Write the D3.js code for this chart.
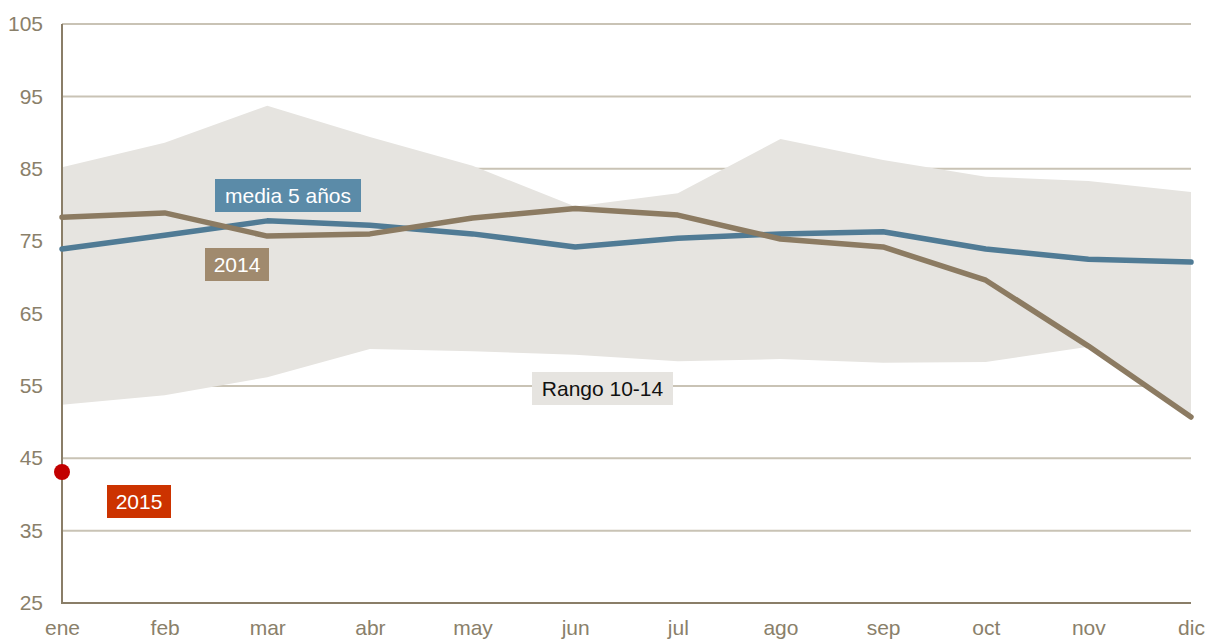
<!DOCTYPE html>
<html>
<head>
<meta charset="utf-8">
<script src="https://cdn.jsdelivr.net/npm/d3@7"></script>
<style>
  body { margin: 0; background: #fff; }
  svg { display: block; font-family: "Liberation Sans", Arial, sans-serif; }
</style>
</head>
<body>
<div id="chart"></div>
<script>
// months along the x axis
var months = ['ene','feb','mar','abr','may','jun','jul','ago','sep','oct','nov','dic'];
var yTicks = [25, 35, 45, 55, 65, 75, 85, 95, 105];
// range 10-14 (min / max)
var rangeLow  = [52.4, 53.7, 56.2, 60.1, 59.8, 59.3, 58.4, 58.7, 58.2, 58.3, 60.4, 50.7];
var rangeHigh = [85.2, 88.6, 93.7, 89.4, 85.4, 79.8, 81.6, 89.1, 86.2, 83.9, 83.3, 81.8];
// media 5 años
var media = [73.9, 75.8, 77.8, 77.2, 76.0, 74.2, 75.4, 76.0, 76.3, 73.9, 72.5, 72.1];
// 2014
var y2014 = [78.3, 78.9, 75.7, 76.0, 78.2, 79.5, 78.6, 75.3, 74.2, 69.6, 60.5, 50.7];
// 2015
var y2015 = [43.1];

var svgwidth = 1209, svgheight = 639;
var margin = {top: 24, right: 18, bottom: 36, left: 62};
var width = svgwidth - margin.left - margin.right,
    height = svgheight - margin.top - margin.bottom;

var svg = d3.select('#chart')
  .append('svg')
    .attr('width', svgwidth)
    .attr('height', svgheight);

var x = d3.scalePoint()
  .domain(months)
  .range([0, width]);

var y = d3.scaleLinear()
  .domain([25, 105])
  .range([height, 0]);

var g = svg.append('g')
  .attr('transform', 'translate(' + margin.left + ',' + margin.top + ')');

// gridlines
g.append('g')
  .selectAll('line')
  .data(yTicks.filter(function(d) { return d > 25; }))
  .enter().append('line')
    .attr('x1', 0)
    .attr('x2', width)
    .attr('y1', function(d) { return y(d); })
    .attr('y2', function(d) { return y(d); })
    .attr('stroke', '#c9c3b5')
    .attr('stroke-width', 2);

// range area
var area = d3.area()
  .x(function(d, i) { return x(months[i]); })
  .y0(function(d, i) { return y(rangeLow[i]); })
  .y1(function(d) { return y(d); });

g.append('path')
  .datum(rangeHigh)
  .attr('fill', '#e6e4e0')
  .attr('d', area);

// y axis
var yAxis = d3.axisLeft(y)
  .tickValues(yTicks)
  .tickSize(0)
  .tickPadding(19);

var gY = g.append('g').call(yAxis);
gY.select('.domain').remove();
gY.selectAll('text')
  .attr('fill', '#8a806a')
  .attr('font-size', 21)
  .attr('font-family', '"Liberation Sans", Arial, sans-serif');

// x axis
var xAxis = d3.axisBottom(x)
  .tickSize(0)
  .tickPadding(17);

var gX = g.append('g')
  .attr('transform', 'translate(0,' + height + ')')
  .call(xAxis);
gX.select('.domain').remove();
gX.selectAll('text')
  .attr('fill', '#8a806a')
  .attr('font-size', 21)
  .attr('font-family', '"Liberation Sans", Arial, sans-serif');

// axis lines (left + bottom)
g.append('path')
  .attr('d', 'M0,0V' + height + 'H' + width)
  .attr('fill', 'none')
  .attr('stroke', '#8a7e68')
  .attr('stroke-width', 2);

// lines
var line = d3.line()
  .x(function(d, i) { return x(months[i]); })
  .y(function(d) { return y(d); });

g.append('path')
  .datum(media)
  .attr('fill', 'none')
  .attr('stroke', '#507b95')
  .attr('stroke-width', 5.5)
  .attr('stroke-linejoin', 'round')
  .attr('stroke-linecap', 'round')
  .attr('d', line);

g.append('path')
  .datum(y2014)
  .attr('fill', 'none')
  .attr('stroke', '#8c7b62')
  .attr('stroke-width', 5.5)
  .attr('stroke-linejoin', 'round')
  .attr('stroke-linecap', 'round')
  .attr('d', line);

// 2015 point
g.selectAll('circle.p2015')
  .data(y2015)
  .enter().append('circle')
    .attr('class', 'p2015')
    .attr('cx', function(d, i) { return x(months[i]); })
    .attr('cy', function(d) { return y(d); })
    .attr('r', 8)
    .attr('fill', '#c20000');

// labels
function label(text, cx, cy, w, bg, fg) {
  var lg = svg.append('g');
  lg.append('rect')
    .attr('x', cx - w / 2)
    .attr('y', cy - 16.5)
    .attr('width', w)
    .attr('height', 33)
    .attr('fill', bg);
  lg.append('text')
    .attr('x', cx)
    .attr('y', cy)
    .attr('dy', '0.36em')
    .attr('text-anchor', 'middle')
    .attr('font-size', 21)
    .attr('fill', fg)
    .text(text);
}

label('media 5 años', 288, 195.5, 146, '#5b8ba8', '#fff');
label('2014', 237, 264.5, 64, '#a08a6e', '#fff');
label('Rango 10-14', 602.5, 388.5, 141, '#e6e4e0', '#111');
label('2015', 139, 501.5, 64, '#cc3300', '#fff');
</script>
</body>
</html>
